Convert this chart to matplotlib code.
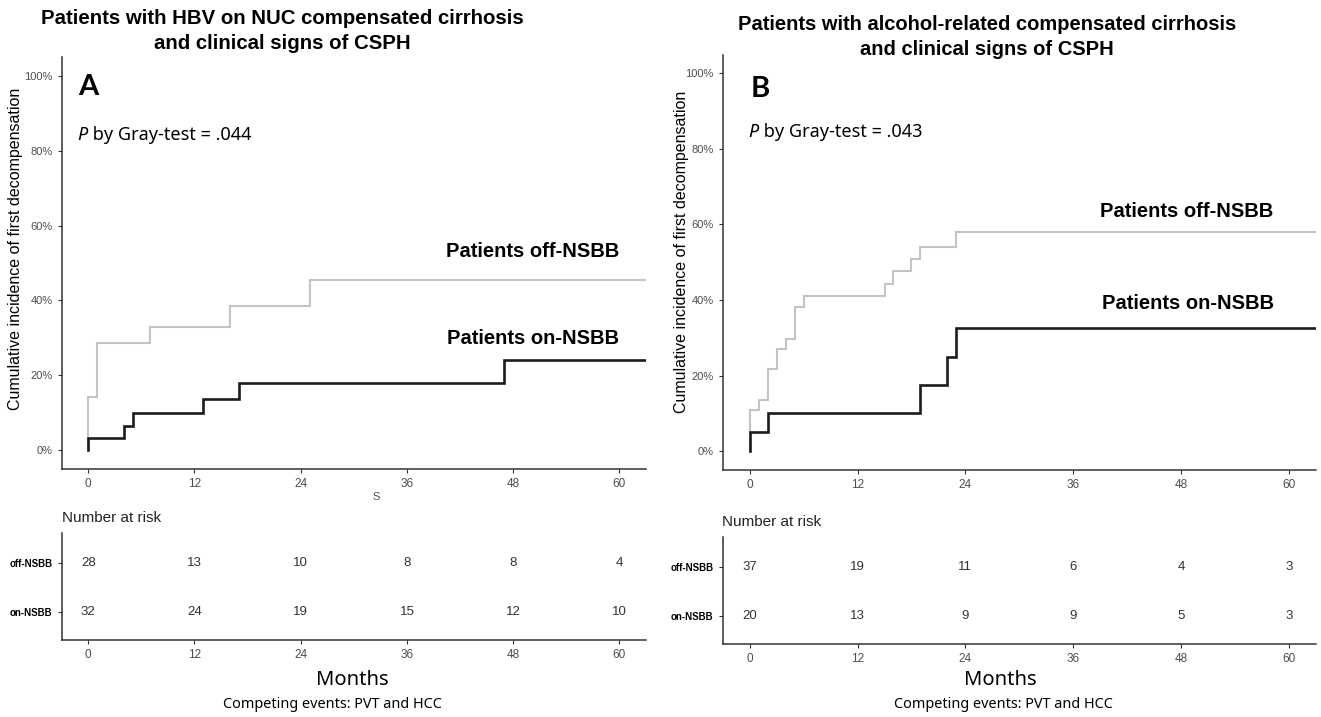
import matplotlib
matplotlib.use("Agg")
import matplotlib.pyplot as plt


months = [0, 12, 24, 36, 48, 60]

# panel A - HBV on NUC
a_off_t = [0, 1, 7, 16, 25]
a_off_ci = [14.3, 28.5, 33.0, 38.5, 45.4]
a_on_t = [0, 4, 5, 13, 17, 47]
a_on_ci = [3.1, 6.5, 10.0, 13.6, 17.8, 24.1]
a_risk_off = [28, 13, 10, 8, 8, 4]
a_risk_on = [32, 24, 19, 15, 12, 10]

# panel B - alcohol-related
b_off_t = [0, 1, 2, 3, 4, 5, 6, 15, 16, 18, 19, 23]
b_off_ci = [10.9, 13.5, 21.6, 26.9, 29.8, 38.2, 41.1, 44.2, 47.7, 50.9, 54.1, 57.9]
b_on_t = [0, 2, 19, 22, 23]
b_on_ci = [5.0, 10.0, 17.4, 25.0, 32.6]
b_risk_off = [37, 19, 11, 6, 4, 3]
b_risk_on = [20, 13, 9, 9, 5, 3]

row_labels = ["off-NSBB", "on-NSBB"]
y_ticks = [0, 20, 40, 60, 80, 100]

SANS = "Liberation Sans"
OTHER = "Noto Sans"
LETTER = "Lato"
GRAY_LINE = "#c4c4c4"
DARK_LINE = "#1c1c1c"
TICK_COL = "#4d4d4d"


def style_axes(ax):
    for side in ["top", "right"]:
        ax.spines[side].set_visible(False)
    for side in ["left", "bottom"]:
        ax.spines[side].set_color("#333333")
        ax.spines[side].set_linewidth(1.1)
    ax.tick_params(direction="out", length=3, width=0.8, color="#333333")
    ax.set_xlim(-3, 63)
    ax.set_xticks(months)
    ax.set_xticklabels([str(m) for m in months], fontsize=8.5,
                       color=TICK_COL, family=SANS)


def steps(ax, t, ci, color, lw):
    xs = [0] + list(t) + [63]
    ys = [0] + list(ci) + [ci[-1]]
    ax.step(xs, ys, where="post", color=color, lw=lw, solid_joinstyle="miter")


def curve_panel(ax, off_t, off_ci, on_t, on_ci, letter, pval, lab_x, off_y, on_y, letter_x, p_x, letter_y, p_y):
    style_axes(ax)
    steps(ax, off_t, off_ci, GRAY_LINE, 1.5)
    steps(ax, on_t, on_ci, DARK_LINE, 1.9)
    ax.set_ylim(-5, 105)
    ax.set_yticks(y_ticks)
    ax.set_yticklabels([f"{v}%" for v in y_ticks], fontsize=8,
                       color=TICK_COL, family=SANS)
    ax.set_ylabel("Cumulative incidence of first decompensation",
                  fontsize=11.5, family=SANS)
    ax.text(lab_x, off_y, "Patients off-NSBB", ha="right", va="center",
            fontsize=14.5, fontweight="bold", family=SANS)
    ax.text(lab_x, on_y, "Patients on-NSBB", ha="right", va="center",
            fontsize=14.5, fontweight="bold", family=SANS)
    ax.text(letter_x, letter_y, letter, ha="left", va="center",
            fontsize=21, fontweight="bold", family=LETTER)
    p = ax.text(p_x, p_y, "P", ha="left", va="center", fontsize=13,
                style="italic", family=OTHER)
    ax.annotate(" by Gray-test = " + pval, xy=(1, 0), xycoords=p,
                ha="left", va="bottom", fontsize=13, family=OTHER)


def risk_panel(ax, off, on):
    style_axes(ax)
    ax.set_ylim(-0.565, 1.61)
    ax.set_yticks([1, 0])
    ax.set_yticklabels(row_labels, fontsize=7, fontweight="bold", family=SANS)
    for i, m in enumerate(months):
        ax.text(m, 1, str(off[i]), ha="center", va="center",
                fontsize=9.5, color="#333333", family=SANS)
        ax.text(m, 0, str(on[i]), ha="center", va="center",
                fontsize=9.5, color="#333333", family=SANS)


def main():
    fig = plt.figure(figsize=(13.21, 7.17), dpi=100)
    W, H = 1321, 717

    ax_a = fig.add_axes([61.7 / W, 1 - 468.7 / H, 584.3 / W, 411.4 / H])
    ax_b = fig.add_axes([722.7 / W, 1 - 469.9 / H, 593.3 / W, 415.3 / H])
    tab_a = fig.add_axes([61.7 / W, 1 - 640 / H, 584.3 / W, 107 / H])
    tab_b = fig.add_axes([722.7 / W, 1 - 644 / H, 593.3 / W, 107 / H])

    curve_panel(ax_a, a_off_t, a_off_ci, a_on_t, a_on_ci, "A", ".044",
                60, 53.0, 29.9, -1.1, -1.2, 97.0, 84.2)
    curve_panel(ax_b, b_off_t, b_off_ci, b_on_t, b_on_ci, "B", ".043",
                58.3, 63.4, 39.1, 0.1, -0.15, 96.0, 84.5)
    ax_a.yaxis.set_label_coords(-(61.7 - 23) / 584.3, 0.534)
    ax_b.yaxis.set_label_coords(-(722.7 - 689) / 593.3, 0.524)

    risk_panel(tab_a, a_risk_off, a_risk_on)
    risk_panel(tab_b, b_risk_off, b_risk_on)

    fig.text(282 / W, 1 - 31 / H,
             "Patients with HBV on NUC compensated cirrhosis\nand clinical signs of CSPH",
             ha="center", va="center", fontsize=14.7, fontweight="bold",
             family=SANS, linespacing=1.4)
    fig.text(987 / W, 1 - 37 / H,
             "Patients with alcohol-related compensated cirrhosis\nand clinical signs of CSPH",
             ha="center", va="center", fontsize=14.5, fontweight="bold",
             family=SANS, linespacing=1.4)

    fig.text(62 / W, 1 - 518 / H, "Number at risk", ha="left", va="center",
             fontsize=11, family=SANS, color="#222222")
    fig.text(722 / W, 1 - 522 / H, "Number at risk", ha="left", va="center",
             fontsize=11, family=SANS, color="#222222")
    fig.text(376 / W, 1 - 497 / H, "S", ha="center", va="center",
             fontsize=8, family=SANS, color="#555555")

    for cx, cy in [(352, 680), (1000, 680)]:
        fig.text(cx / W, 1 - cy / H, "Months", ha="center", va="center",
                 fontsize=14.5, family=OTHER)
    for cx, cy in [(332, 704), (1003, 704)]:
        fig.text(cx / W, 1 - cy / H, "Competing events: PVT and HCC",
                 ha="center", va="center", fontsize=10.4, family=OTHER)

    fig.savefig("out.png", dpi=100)


if __name__ == "__main__":
    main()
